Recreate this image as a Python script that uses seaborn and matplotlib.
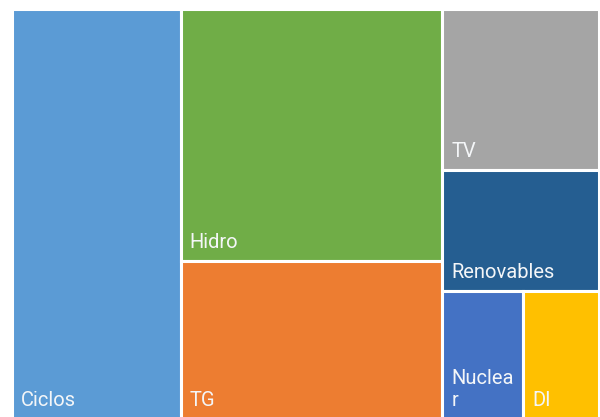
import matplotlib
matplotlib.use("Agg")
import matplotlib.pyplot as plt
import seaborn as sns
from matplotlib.patches import Rectangle

# Data (installed capacity, MW)
categories = ["Ciclos", "Hidro", "TG", "TV", "Renovables", "Nuclear", "DI"]
values = [11700, 11150, 7000, 4270, 3190, 1755, 1640]
colors = ["#5B9BD5", "#70AD47", "#ED7D31", "#A5A5A5", "#255E91", "#4472C4", "#FFC000"]

# layout structure: columns, each column a list of items; an item that is a list is a row
structure = [["Ciclos"], ["Hidro", "TG"], ["TV", "Renovables", ["Nuclear", "DI"]]]

sns.set_theme(style="white")
plt.rcParams["font.family"] = ["Roboto", "DejaVu Sans"]

val = dict(zip(categories, values))
col = dict(zip(categories, colors))

W, H = 587.0, 410.0
fig = plt.figure(figsize=(6.0, 4.17), dpi=100)
ax = fig.add_axes([12 / 600, 1 - (9 + H) / 417, W / 600, H / 417])
ax.set_xlim(0, W)
ax.set_ylim(H, 0)
ax.axis("off")

def item_sum(it):
    if isinstance(it, list):
        return sum(val[c] for c in it)
    return val[it]

total = sum(values)
rects = []
x = 0.0
for column in structure:
    csum = sum(item_sum(it) for it in column)
    cw = W * csum / total
    y = 0.0
    for it in column:
        ih = H * item_sum(it) / csum
        if isinstance(it, list):
            xx = x
            s = item_sum(it)
            for c in it:
                w = cw * val[c] / s
                rects.append((c, xx, y, w, ih))
                xx += w
        else:
            rects.append((it, x, y, cw, ih))
        y += ih
    x += cw

fig.canvas.draw()
renderer = fig.canvas.get_renderer()
pad_x, pad_y = 9, 13
fs = 14.5
for name, rx, ry, rw, rh in rects:
    ax.add_patch(Rectangle((rx, ry), rw, rh, facecolor=col[name], edgecolor="white", linewidth=2.2))
    # wrap label by characters if wider than the cell
    label = name
    t = ax.text(0, 0, label, fontsize=fs, color="white")
    bw = t.get_window_extent(renderer).width
    t.remove()
    if bw > rw - 2 * pad_x:
        lines, cur = [], ""
        for ch in label:
            tt = ax.text(0, 0, cur + ch, fontsize=fs)
            w_ = tt.get_window_extent(renderer).width
            tt.remove()
            if w_ > rw - 2 * pad_x and cur:
                lines.append(cur)
                cur = ch
            else:
                cur += ch
        lines.append(cur)
        label = "\n".join(lines)
    ax.text(rx + pad_x, ry + rh - pad_y, label, fontsize=fs, color="#F4F6F8",
            ha="left", va="baseline", linespacing=1.2)

fig.savefig("out.png", dpi=100, facecolor="white")
